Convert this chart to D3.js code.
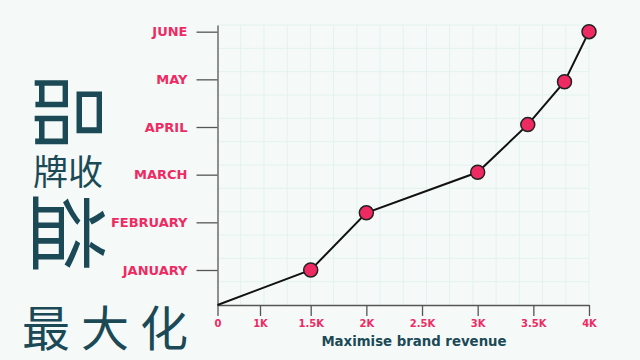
<!DOCTYPE html>
<html>
<head>
<meta charset="utf-8">
<script src="https://cdn.jsdelivr.net/npm/d3@7"></script>
<style>
    body { margin: 0; background: #f5faf9; }
    svg { display: block; }
</style>
</head>
<body>
<svg width="640" height="360"></svg>
<script>
var months = ["JANUARY", "FEBRUARY", "MARCH", "APRIL", "MAY", "JUNE"];
var monthLevel = [1, 2.2, 3.05, 4.05, 4.95, 6];
var revenue = [1500, 2000, 3000, 3450, 3780, 4000];
var xTicks = [0, 1000, 1500, 2000, 2500, 3000, 3500, 4000];
var xTickLabels = ["0", "1K", "1.5K", "2K", "2.5K", "3K", "3.5K", "4K"];

var pink = "#ef2a63";
var teal = "#1b4a56";

var x, y;

function drawGrid(svg) {
    let gx = d3.scaleLinear().domain([0, 16]).range([217.5, 589]);
    let gy = d3.scaleLinear().domain([0, 12]).range([305, 25]);

    let g = svg.append("g")
        .attr("stroke", "#e2f2ee")
        .attr("stroke-width", 1);

    g.selectAll()
        .data(d3.range(1, 17))
        .enter()
        .append("line")
        .attr("x1", d => gx(d))
        .attr("x2", d => gx(d))
        .attr("y1", gy(0))
        .attr("y2", gy(12));

    g.selectAll()
        .data(d3.range(1, 13))
        .enter()
        .append("line")
        .attr("x1", gx(0))
        .attr("x2", gx(16))
        .attr("y1", d => gy(d))
        .attr("y2", d => gy(d));
}

function drawTitle(svg) {
    let g = svg.append("g")
        .attr("fill", teal)
        .style("font-family", "'Noto Sans CJK SC'");

    // rotated characters
    g.append("text")
        .attr("transform", "translate(74,112) rotate(90)")
        .attr("text-anchor", "middle")
        .attr("dominant-baseline", "central")
        .style("font-size", "76px")
        .text("品");

    g.append("text")
        .attr("x", 68)
        .attr("y", 185)
        .attr("text-anchor", "middle")
        .style("font-size", "35px")
        .text("牌收");

    g.append("text")
        .attr("transform", "translate(73,233) rotate(90)")
        .attr("text-anchor", "middle")
        .attr("dominant-baseline", "central")
        .style("font-size", "80px")
        .text("益");

    g.append("text")
        .attr("x", 22)
        .attr("y", 346)
        .style("font-size", "48px")
        .style("letter-spacing", "11px")
        .text("最大化");
}

function drawChart() {
    let svg = d3.select("svg");

    drawGrid(svg);
    drawTitle(svg);

    x = d3.scaleLinear().domain([0, 1000, 1500, 4000]).range([217.5, 260, 310.7, 589]);
    y = d3.scaleLinear().domain([0, 1, 6.14]).range([305, 270, 25]);

    // y axis
    let yAxis = svg.append("g")
        .attr("transform", "translate(217.5,0)")
        .call(d3.axisLeft(y)
            .tickValues([1, 2, 3, 4, 5, 6])
            .tickFormat(d => months[d - 1])
            .tickSizeInner(21)
            .tickSizeOuter(0)
            .tickPadding(9));

    yAxis.selectAll("text")
        .attr("fill", pink)
        .style("font-family", "'DejaVu Sans'")
        .style("font-weight", "bold")
        .style("font-size", "13px");

    // x axis
    let xAxis = svg.append("g")
        .attr("transform", "translate(0,305)")
        .call(d3.axisBottom(x)
            .tickValues(xTicks)
            .tickFormat((d, i) => xTickLabels[i])
            .tickSizeInner(11)
            .tickSizeOuter(0)
            .tickPadding(4));

    xAxis.selectAll("text")
        .attr("fill", pink)
        .style("font-family", "'DejaVu Sans'")
        .style("font-weight", "bold")
        .style("font-size", "10px");

    svg.selectAll(".domain, .tick line")
        .attr("stroke", "#555")
        .attr("stroke-width", 1.3);

    svg.append("text")
        .attr("x", 414)
        .attr("y", 346)
        .attr("text-anchor", "middle")
        .attr("fill", teal)
        .style("font-family", "'DejaVu Sans'")
        .style("font-weight", "bold")
        .style("font-size", "13.3px")
        .text("Maximise brand revenue");

    // line starts at the origin
    let points = revenue.map((r, i) => ({ revenue: r, level: monthLevel[i] }));
    let linePoints = [{ revenue: 0, level: 0 }].concat(points);

    svg.append("path")
        .datum(linePoints)
        .attr("fill", "none")
        .attr("stroke", "#111")
        .attr("stroke-width", 2)
        .attr("d", d3.line()
            .x(d => x(d.revenue))
            .y(d => y(d.level)));

    svg.append("g")
        .selectAll()
        .data(points)
        .enter()
        .append("circle")
        .attr("cx", d => x(d.revenue))
        .attr("cy", d => y(d.level))
        .attr("r", 7)
        .attr("fill", pink)
        .attr("stroke", "#222")
        .attr("stroke-width", 1.5);
}

drawChart();
</script>
</body>
</html>
